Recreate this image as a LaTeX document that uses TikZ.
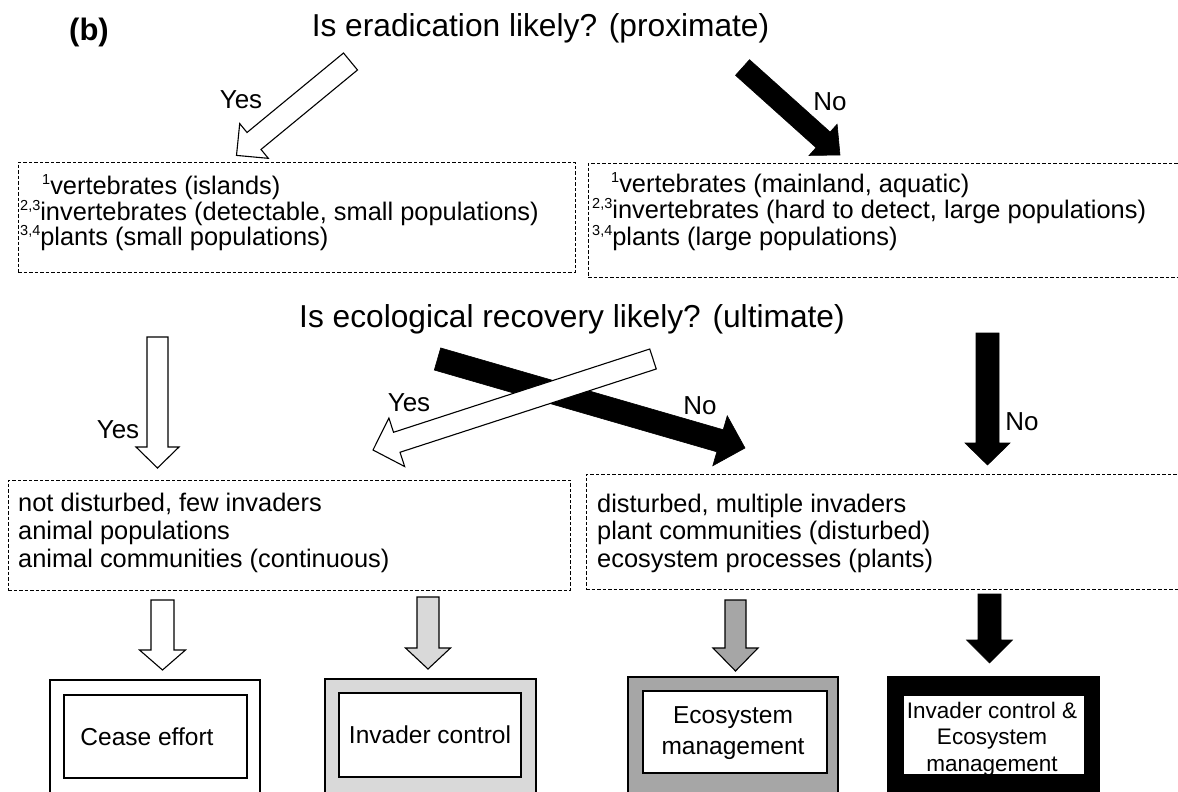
\documentclass[tikz,border=0pt]{standalone}
\usepackage{fontspec}
\setmainfont{Liberation Sans}
\usetikzlibrary{calc}
\definecolor{lgray}{HTML}{D9D9D9}
\definecolor{mgray}{HTML}{A6A6A6}
\newcommand{\myup}[1]{\raisebox{0.36em}{\fontsize{14.5}{15}\selectfont #1}}
% style, from, to, half shaft, half head, head length
\newcommand{\blockarrow}[6]{%
  \coordinate (ba-n) at ($(#3)!#6!(#2)$);
  \draw[#1] ($(#2)!#4!90:(#3)$) -- ($(ba-n)!#4!-90:(#2)$) -- ($(ba-n)!#5!-90:(#2)$) -- (#3)
    -- ($(ba-n)!#5!90:(#2)$) -- ($(ba-n)!#4!90:(#2)$) -- ($(#2)!#4!-90:(#3)$) -- cycle;
}
\begin{document}
\begin{tikzpicture}[x=1pt,y=-1pt,
  ttl/.style={font=\fontsize{31.7}{36}\selectfont, inner sep=0pt, anchor=base},
  lst/.style={font=\fontsize{25.4}{28}\selectfont, inner sep=0pt, anchor=base west},
  lab/.style={font=\fontsize{26}{28}\selectfont, inner sep=0pt},
  dbox/.style={draw=black, line width=0.9pt, dash pattern=on 3.5pt off 2pt, inner sep=0pt},
  obox/.style={draw=black, line width=1.3pt, inner sep=0pt},
  ibox/.style={draw=black, fill=white, line width=1.3pt, inner sep=0pt},
  btxt/.style={font=\fontsize{24.5}{31}\selectfont, inner sep=0pt, align=center},
  wa/.style={draw=black, fill=white, line width=1.1pt, line join=miter},
  ka/.style={draw=black, fill=black, line width=0.6pt, line join=miter},
  la/.style={draw=black, fill=lgray, line width=1.1pt, line join=miter},
  ga/.style={draw=black, fill=mgray, line width=1.1pt, line join=miter}]
\useasboundingbox (0,0) rectangle (1178,792);
\fill[white] (0,0) rectangle (1178,792);
\clip (0,0) rectangle (1178,792);

% titles
\node[font=\fontsize{31}{33}\selectfont\bfseries, inner sep=0pt, anchor=base] (lblb) at (89,41) {(b)};
\node[ttl] (q1) at (540.5,37) {Is eradication likely? (proximate)};
\node[ttl] (q2) at (572,327) {Is ecological recovery likely? (ultimate)};

% dashed boxes
\node[dbox, minimum width=557pt, minimum height=110pt] (b1) at (296.5,217) {};
\node[dbox, minimum width=620pt, minimum height=114pt] (b2) at (898,220) {};
\node[dbox, minimum width=562pt, minimum height=110pt] (b3) at (289,535) {};
\node[dbox, minimum width=620pt, minimum height=115pt] (b4) at (896,531.5) {};

% list texts
\node[lst] (t1a) at (42,194) {\myup{1}vertebrates (islands)};
\node[lst] (t1b) at (20,220) {\myup{2,3}invertebrates (detectable, small populations)};
\node[lst] (t1c) at (20,245) {\myup{3,4}plants (small populations)};
\node[lst] (t2a) at (611,192) {\myup{1}vertebrates (mainland, aquatic)};
\node[lst] (t2b) at (592,218) {\myup{2,3}invertebrates (hard to detect, large populations)};
\node[lst] (t2c) at (592,245) {\myup{3,4}plants (large populations)};
\node[lst] (t3a) at (18,511) {not disturbed, few invaders};
\node[lst] (t3b) at (18,539) {animal populations};
\node[lst] (t3c) at (18,567) {animal communities (continuous)};
\node[lst] (t4a) at (597,512) {disturbed, multiple invaders};
\node[lst] (t4b) at (597,539) {plant communities (disturbed)};
\node[lst] (t4c) at (597,567) {ecosystem processes (plants)};

% outcome boxes
\node[obox, fill=white, minimum width=210pt, minimum height=130pt] (o1) at (155,745) {};
\node[ibox, minimum width=183pt, minimum height=83pt] (i1) at (155.5,736.5) {};
\node[btxt] (x1) at (147,737) {Cease effort};
\node[obox, fill=lgray, minimum width=211pt, minimum height=132pt] (o2) at (430.5,745) {};
\node[ibox, minimum width=182pt, minimum height=84pt] (i2) at (430,735) {};
\node[btxt] (x2) at (430,735) {Invader control};
\node[obox, fill=mgray, minimum width=210pt, minimum height=134pt] (o3) at (733,744) {};
\node[ibox, minimum width=184pt, minimum height=82pt] (i3) at (735,732) {};
\node[btxt] (x3) at (733,733) {Ecosystem\\management};
\node[obox, fill=black, minimum width=211pt, minimum height=134pt] (o4) at (993.5,744) {};
\node[ibox, minimum width=182pt, minimum height=80pt] (i4) at (994,735) {};
\node[btxt, font=\fontsize{22.5}{26.5}\selectfont] (x4) at (992,739) {Invader control \&\\Ecosystem\\management};

% arrow end points
\coordinate (a1s) at (350.5,61.5);  \coordinate (a1e) at (236.5,155.4);
\coordinate (a2s) at (742.5,67.5);  \coordinate (a2e) at (840,155);
\coordinate (a3s) at (157.5,337);   \coordinate (a3e) at (157.5,468);
\coordinate (a4s) at (437.5,359);   \coordinate (a4e) at (745,448);
\coordinate (a5s) at (653,359);     \coordinate (a5e) at (373,450);
\coordinate (a6s) at (987.5,333);   \coordinate (a6e) at (987.5,465);
\coordinate (a7s) at (162.5,600);   \coordinate (a7e) at (162.5,670);
\coordinate (a8s) at (428,597);     \coordinate (a8e) at (428,669);
\coordinate (a9s) at (735.5,600);   \coordinate (a9e) at (735.5,671);
\coordinate (a10s) at (989.5,594);  \coordinate (a10e) at (989.5,663);

\blockarrow{wa}{a1s}{a1e}{11pt}{22.5pt}{22.7pt}
\blockarrow{ka}{a2s}{a2e}{10.5pt}{21pt}{22.7pt}
\blockarrow{wa}{a3s}{a3e}{10.5pt}{21.5pt}{21pt}
\blockarrow{ka}{a4s}{a4e}{11.5pt}{26pt}{26pt}
\blockarrow{wa}{a5s}{a5e}{10.5pt}{25.5pt}{25pt}
\blockarrow{ka}{a6s}{a6e}{11.5pt}{22.5pt}{22pt}
\blockarrow{wa}{a7s}{a7e}{11.5pt}{23pt}{20pt}
\blockarrow{la}{a8s}{a8e}{11pt}{22.5pt}{21pt}
\blockarrow{ga}{a9s}{a9e}{10.5pt}{22.5pt}{23pt}
\blockarrow{ka}{a10s}{a10e}{11.5pt}{23pt}{23pt}

% labels
\node[lab] (y1) at (241,100) {Yes};
\node[lab] (n1) at (830,102) {No};
\node[lab] (y2) at (118,430) {Yes};
\node[lab] (y3) at (409,403) {Yes};
\node[lab] (n2) at (700,406) {No};
\node[lab] (n3) at (1022,422) {No};
\end{tikzpicture}
\end{document}
